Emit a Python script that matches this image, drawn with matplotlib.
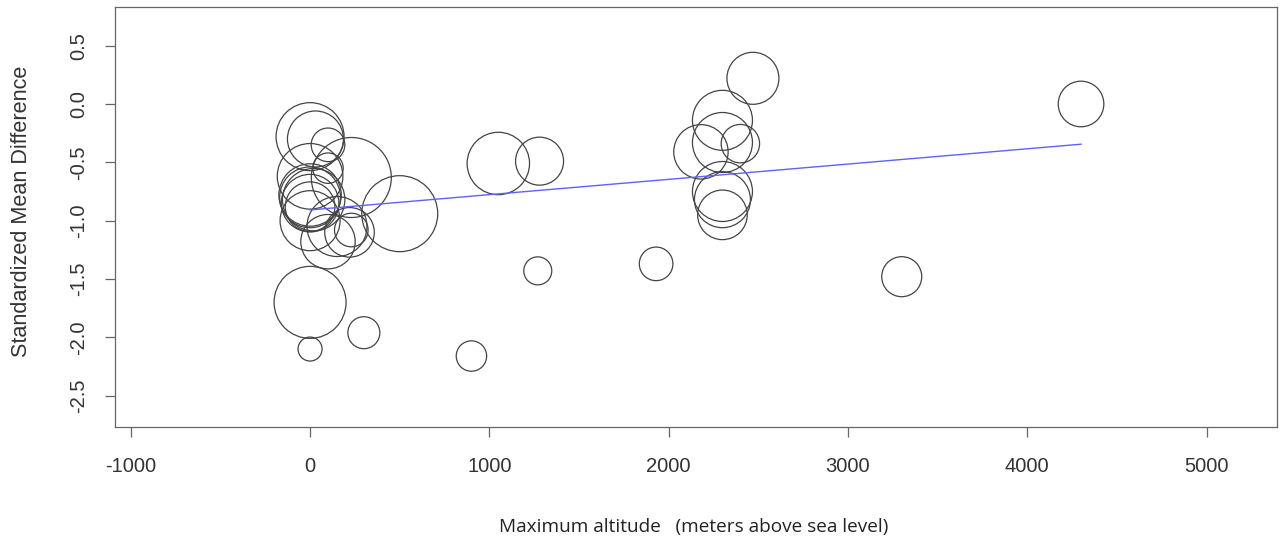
import matplotlib
matplotlib.use("Agg")
import matplotlib.pyplot as plt
import numpy as np

# study-level data: max altitude (m), standardized mean difference, relative weight
altitude = [0, 30, 100, 0, 230, 100, 0, 0, 20, 0, 0, 0, 100, 220, 230, 150,
             500, 0, 0, 300, 900, 1050, 1280, 1270, 1930, 3300,
             2180, 2300, 2300, 2400, 2470, 2300, 2300, 2300, 4300]
smd = [-0.28, -0.30, -0.35, -0.62, -0.63, -0.55, -0.78, -0.80, -0.82, -0.88,
       -0.85, -1.00, -1.18, -1.10, -1.08, -1.05,
       -0.94, -1.70, -2.10, -1.96, -2.16, -0.51, -0.49, -1.43, -1.37, -1.48,
       -0.41, -0.14, -0.33, -0.34, 0.22, -0.75, -0.82, -0.95, 0.00]
weight = [0.85, 0.70, 0.42, 0.82, 1.00, 0.38, 0.78, 0.76, 0.78, 0.62,
          0.72, 0.75, 0.68, 0.62, 0.42, 0.75,
          0.95, 0.90, 0.30, 0.40, 0.38, 0.78, 0.60, 0.35, 0.42, 0.50,
          0.68, 0.75, 0.75, 0.48, 0.65, 0.75, 0.70, 0.62, 0.57]

# meta-regression fit
intercept = -0.908
slope = 0.000131

xticks = [-1000, 0, 1000, 2000, 3000, 4000, 5000]
yticks = [0.5, 0.0, -0.5, -1.0, -1.5, -2.0, -2.5]

W, H = 1285, 543
fig = plt.figure(figsize=(W / 100, H / 100), dpi=100)
ax = fig.add_axes([115 / W, 1 - 427 / H, (1277 - 115) / W, (427 - 7) / H])

rad_px = np.array(weight) * 40
s = (2 * rad_px * 0.72) ** 2
ax.scatter(altitude, smd, s=s, facecolors="none", edgecolors="#444444", linewidths=0.9, zorder=2)

xl = np.array([min(altitude), max(altitude)])
ax.plot(xl, intercept + slope * xl, color="#6060ff", lw=1.0, zorder=3)

ax.set_xlim(-1088, 5393)
ax.set_ylim(-2.768, 0.831)

tickfont = dict(family="Liberation Sans", size=14.5, color="#333333")
ax.set_xticks(xticks)
ax.set_xticklabels([str(v) for v in xticks], **tickfont)
ax.set_yticks(yticks)
ax.set_yticklabels(["%.1f" % v for v in yticks], rotation=90, va="center", **tickfont)
ax.tick_params(axis="both", length=7.5, width=0.9, color="#666666", direction="out")
ax.tick_params(axis="x", pad=14)
ax.tick_params(axis="y", pad=12)

for sp in ax.spines.values():
    sp.set_color("#666666")
    sp.set_linewidth(0.9)

fig.text(22 / W, 1 - 211 / H, "Standardized Mean Difference", rotation=90,
         ha="center", va="center", family="Liberation Sans", size=15.6, color="#333333")
fig.text(694 / W, 1 - 527 / H, "Maximum altitude   (meters above sea level)",
         ha="center", va="center", family="Open Sans", size=13.7, color="#222222")

fig.savefig("out.png", dpi=100)
